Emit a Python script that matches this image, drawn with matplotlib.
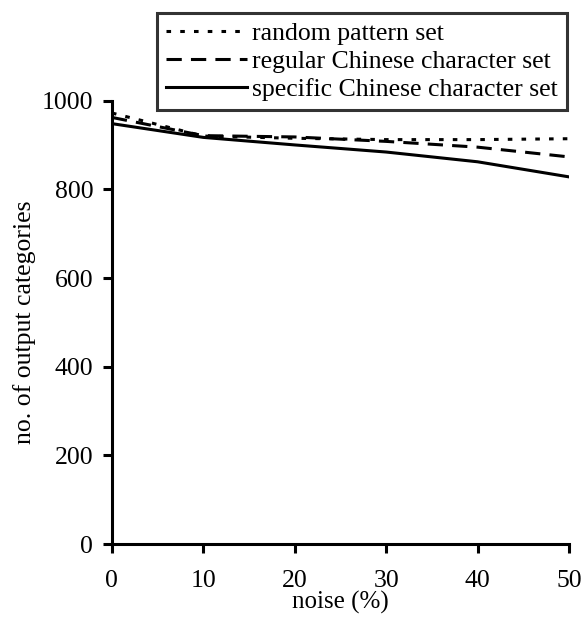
import matplotlib.pyplot as plt

noise = [0, 10, 20, 30, 40, 50]
random_set = [972, 920, 915, 912, 912, 914]
regular_set = [962, 921, 918, 908, 895, 873]
specific_set = [948, 917, 900, 884, 862, 828]

plt.rcParams['font.family'] = ['Liberation Serif', 'DejaVu Serif']

fig = plt.figure(figsize=(5.83, 6.17), dpi=100)
ax = fig.add_axes([0.192, 0.118, 0.784, 0.719])

ax.plot(noise, random_set, color='black', linestyle=(0, (1.5, 3)), linewidth=2.2, label='random pattern set')
ax.plot(noise, regular_set, color='black', linestyle=(0, (5, 3)), linewidth=2.2, label='regular Chinese character set')
ax.plot(noise, specific_set, color='black', linestyle='-', linewidth=2.2, label='specific Chinese character set')

ax.set_xlim(0, 50)
ax.set_ylim(0, 1000)
ax.set_xticks([0, 10, 20, 30, 40, 50])
ax.set_yticks([0, 200, 400, 600, 800, 1000])
for side in ['top', 'right']:
    ax.spines[side].set_visible(False)
for side in ['left', 'bottom']:
    ax.spines[side].set_linewidth(2.2)
ax.tick_params(axis='x', direction='out', length=6.5, width=2.2, pad=12, labelsize=18.5)
ax.tick_params(axis='y', direction='out', length=6.5, width=2.2, pad=7, labelsize=18.5)

ax.set_xlabel('noise (%)', fontsize=18, labelpad=-1)
ax.set_ylabel('no. of output categories', fontsize=18.5, labelpad=4)

leg = fig.legend(loc='upper left', bbox_to_anchor=(157 / 583, 1 - 13 / 617), fontsize=18.5,
                 frameon=True, fancybox=False, edgecolor='black', borderaxespad=0,
                 handlelength=3.15, handletextpad=0.2, labelspacing=0.2, borderpad=0.35)
leg.get_frame().set_linewidth(2.2)

fig.savefig('out.png', dpi=100)
